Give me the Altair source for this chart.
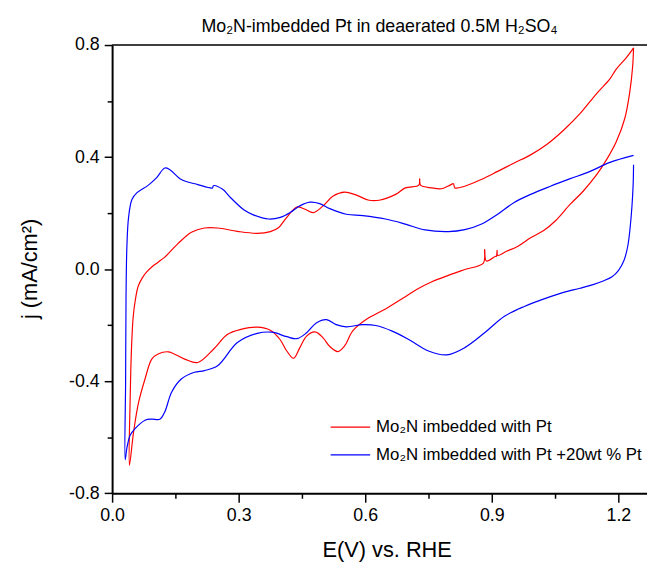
import altair as alt
import pandas as pd

# ---- data (E in V vs RHE, j in mA/cm2) ----
series_names = ["Mo\u2082N imbedded with Pt", "Mo\u2082N imbedded with Pt +20wt % Pt"]
series_colors = ["#FF0000", "#0000FF"]

red_E = [1.236, 1.234, 1.227, 1.215, 1.195, 1.172, 1.149, 1.117, 1.086, 1.051, 1.023, 0.992,
         0.961, 0.935, 0.914, 0.9125, 0.911, 0.909, 0.887, 0.883, 0.880, 0.836, 0.797, 0.758,
         0.725, 0.695, 0.648, 0.602, 0.570, 0.551, 0.535, 0.516, 0.500, 0.481, 0.461, 0.445,
         0.430, 0.414, 0.398, 0.375, 0.344, 0.305, 0.273, 0.242, 0.203, 0.172, 0.133, 0.109,
         0.094, 0.078, 0.063, 0.051, 0.041,
         0.043, 0.046, 0.050, 0.055, 0.062, 0.072, 0.082, 0.094, 0.109, 0.125, 0.156, 0.188,
         0.219, 0.250, 0.297, 0.344, 0.375, 0.395, 0.414, 0.438, 0.457, 0.477, 0.500, 0.524,
         0.551, 0.578, 0.609, 0.633, 0.672, 0.695, 0.727, 0.729, 0.731, 0.758, 0.781, 0.801,
         0.809, 0.8125, 0.836, 0.875, 0.914, 0.953, 0.992, 1.031, 1.070, 1.109, 1.148, 1.180,
         1.195, 1.219, 1.236]
red_j = [0.790, 0.726, 0.632, 0.537, 0.455, 0.391, 0.338, 0.279, 0.232, 0.173, 0.138, 0.112,
         0.081, 0.064, 0.049, 0.067, 0.046, 0.046, 0.029, 0.070, 0.022, -0.001, -0.022, -0.045,
         -0.070, -0.098, -0.142, -0.180, -0.221, -0.274, -0.294, -0.276, -0.245, -0.224, -0.239, -0.280,
         -0.318, -0.292, -0.251, -0.218, -0.207, -0.215, -0.233, -0.283, -0.333, -0.321, -0.295, -0.303,
         -0.321, -0.392, -0.474, -0.580, -0.700,
         -0.450, -0.280, -0.170, -0.110, -0.060, -0.030, -0.010, 0.008, 0.025, 0.043, 0.091, 0.132,
         0.147, 0.147, 0.135, 0.128, 0.134, 0.149, 0.185, 0.222, 0.214, 0.202, 0.226, 0.261,
         0.275, 0.265, 0.246, 0.246, 0.267, 0.290, 0.300, 0.322, 0.300, 0.290, 0.287, 0.300,
         0.305, 0.290, 0.296, 0.320, 0.349, 0.379, 0.408, 0.446, 0.496, 0.555, 0.626, 0.679,
         0.714, 0.755, 0.790]

blue_E = [1.236, 1.235, 1.232, 1.228, 1.222, 1.213, 1.200, 1.185, 1.164, 1.140, 1.109, 1.070,
          1.039, 0.977, 0.930, 0.883, 0.836, 0.793, 0.750, 0.703, 0.664, 0.625, 0.594, 0.555,
          0.531, 0.508, 0.484, 0.461, 0.438, 0.414, 0.379, 0.344, 0.297, 0.250, 0.219, 0.195,
          0.164, 0.141, 0.125, 0.113, 0.094, 0.078, 0.055, 0.043, 0.035, 0.031,
          0.032, 0.033, 0.035, 0.039, 0.047, 0.059, 0.086, 0.105, 0.125, 0.137, 0.164, 0.203,
          0.238, 0.240, 0.262, 0.281, 0.313, 0.336, 0.371, 0.399, 0.422, 0.445, 0.469, 0.492,
          0.516, 0.555, 0.594, 0.648, 0.695, 0.742, 0.797, 0.836, 0.876, 0.914, 0.953, 0.992,
          1.039, 1.086, 1.133, 1.180, 1.236]
blue_j = [0.373, 0.300, 0.220, 0.150, 0.080, 0.030, -0.005, -0.027, -0.042, -0.055, -0.068, -0.083,
          -0.098, -0.133, -0.168, -0.227, -0.280, -0.306, -0.292, -0.251, -0.221, -0.201, -0.198, -0.206,
          -0.198, -0.180, -0.192, -0.227, -0.248, -0.241, -0.225, -0.229, -0.262, -0.345, -0.362, -0.368,
          -0.392, -0.439, -0.509, -0.536, -0.535, -0.539, -0.568, -0.592, -0.639, -0.680,
          -0.400, -0.100, 0.079, 0.185, 0.249, 0.273, 0.300, 0.326, 0.361, 0.355, 0.320, 0.302,
          0.290, 0.298, 0.285, 0.255, 0.211, 0.193, 0.179, 0.185, 0.202, 0.226, 0.239, 0.234,
          0.216, 0.196, 0.191, 0.179, 0.161, 0.140, 0.134, 0.141, 0.161, 0.196, 0.238, 0.267,
          0.296, 0.323, 0.349, 0.381, 0.406]

x_ticks = [0.0, 0.15, 0.3, 0.45, 0.6, 0.75, 0.9, 1.05, 1.2]
y_ticks = [-0.8, -0.6, -0.4, -0.2, 0.0, 0.2, 0.4, 0.6, 0.8]

rows = []
for name, Es, js in [(series_names[0], red_E, red_j), (series_names[1], blue_E, blue_j)]:
    for i, (e, j) in enumerate(zip(Es, js)):
        rows.append({"E": e, "j": j, "series": name, "idx": i})
df = pd.DataFrame(rows)

FONT = "Liberation Sans"
W = 541
H = 453.4
PX_PER_V = 426.7
x_max = W / PX_PER_V

x_major = "abs(datum.value/0.3 - round(datum.value/0.3)) < 0.01"
y_major = "abs(datum.value/0.4 - round(datum.value/0.4)) < 0.01"

x_axis = alt.Axis(
    values=x_ticks,
    labelExpr=f"{x_major} ? format(datum.value, '.1f') : ''",
    tickSize={"condition": {"test": x_major, "value": 9}, "value": 5},
    tickWidth=1.5, tickColor="black",
    domainColor="black", domainWidth=2,
    labelFont=FONT, labelFontSize=18, labelColor="black", labelPadding=4,
    labelOverlap=False, labelFlush=False,
    grid=False,
    title="E(V) vs. RHE", titleFont=FONT, titleFontSize=22, titleFontWeight="normal",
    titleColor="black", titleX=277.7, titleY=63.6, titleBaseline="alphabetic", titleAlign="center",
)
y_axis = alt.Axis(
    values=y_ticks,
    labelExpr=f"{y_major} ? (datum.value < 0 ? '-' : '') + format(abs(datum.value), '.1f') : ''",
    tickSize={"condition": {"test": y_major, "value": 8}, "value": 5},
    tickWidth=1.5, tickColor="black",
    domainColor="black", domainWidth=2,
    labelFont=FONT, labelFontSize=18, labelColor="black", labelPadding=5,
    labelOverlap=False, labelFlush=False,
    grid=False,
    title="j (mA/cm\u00b2)", titleFont=FONT, titleFontSize=22, titleFontWeight="normal",
    titleColor="black", titleX=-83, titleY=226, titleAngle=270,
    titleBaseline="middle", titleAlign="center",
)

lines = alt.Chart(df).mark_line(strokeWidth=1.2, clip=True, interpolate="catmull-rom").encode(
    x=alt.X("E:Q", scale=alt.Scale(domain=[0, x_max], nice=False, zero=False), axis=x_axis),
    y=alt.Y("j:Q", scale=alt.Scale(domain=[-0.8, 0.8], nice=False, zero=False), axis=y_axis),
    color=alt.Color(
        "series:N",
        scale=alt.Scale(domain=series_names, range=series_colors),
        legend=alt.Legend(
            title=None, orient="none", legendX=230, legendY=375.4,
            symbolType="M-2,0H2", symbolSize=400, symbolStrokeWidth=1.2,
            labelFont=FONT, labelFontSize=17, labelColor="black",
            labelOffset=15, rowPadding=9.2, padding=0, labelLimit=500,
        ),
    ),
    order="idx:Q",
)

frame_top = alt.Chart(pd.DataFrame({"a": [0]})).mark_rule(color="black", strokeWidth=1.5).encode(
    x=alt.value(0), x2=alt.value(W), y=alt.value(0)
)

chart = alt.layer(lines, frame_top).properties(
    width=W, height=H,
    title=alt.TitleParams(
        text="Mo\u2082N-imbedded Pt in deaerated 0.5M H\u2082SO\u2084",
        font=FONT, fontSize=18, fontWeight="normal", color="black",
        anchor="middle", baseline="alphabetic", offset=11, dy=25,
    ),
    autosize=alt.AutoSizeParams(type="none"),
    padding={"left": 105.3, "top": 34.3, "right": 0, "bottom": 66},
).configure_view(strokeWidth=0)

chart.save("out.html", embed_options={"renderer": "svg", "actions": False})
